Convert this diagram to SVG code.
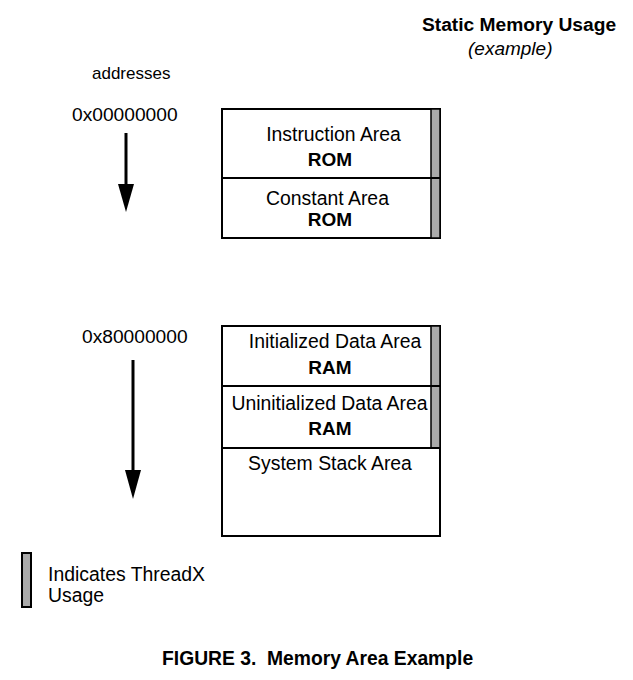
<svg xmlns="http://www.w3.org/2000/svg" width="633" height="680" viewBox="0 0 633 680">
<style>
text{font-family:"Liberation Sans",Arial,sans-serif;fill:#000}
.t{font-size:19.4px}
.b{font-size:19px;font-weight:bold}
.box{fill:#fff;stroke:#000;stroke-width:2}
.bar{fill:#aaa;stroke:#000;stroke-width:1.5}
.cap{font-size:19.3px;font-weight:bold}
</style>
<g id="title">
<text x="422" y="31" class="b" style="font-size:19.2px">Static Memory Usage</text>
<text x="468" y="55" style="font-size:19px;font-style:italic">(example)</text>
</g>
<g id="addresses">
<text x="92" y="79" style="font-size:17px">addresses</text>
<text x="72" y="121" style="font-size:19.2px">0x00000000</text>
<text x="82" y="343" style="font-size:19.2px">0x80000000</text>
</g>
<g id="connectors">
<line x1="126" y1="133" x2="126" y2="186" stroke="#000" stroke-width="3"/>
<path d="M118,184 L134,184 L126,212 Z" fill="#000"/>
<line x1="133" y1="360" x2="133" y2="472" stroke="#000" stroke-width="3"/>
<path d="M125,470 L141,470 L133,499 Z" fill="#000"/>
</g>
<g id="rom-block">
<rect x="222" y="109" width="218" height="129" class="box"/>
<rect x="431" y="109" width="9" height="129" class="bar"/>
<line x1="222" y1="178" x2="440" y2="178" stroke="#000" stroke-width="2"/>
</g>
<g id="instruction-area">
<text x="333.5" y="141" class="t" text-anchor="middle">Instruction Area</text>
<text x="330" y="166" class="b" text-anchor="middle">ROM</text>
</g>
<g id="constant-area">
<text x="327.5" y="205" class="t" text-anchor="middle">Constant Area</text>
<text x="330" y="226" class="b" text-anchor="middle">ROM</text>
</g>
<g id="ram-block">
<rect x="222" y="326" width="218" height="210" class="box"/>
<rect x="431" y="326" width="9" height="122" class="bar"/>
<line x1="222" y1="386" x2="440" y2="386" stroke="#000" stroke-width="2"/>
<line x1="222" y1="448" x2="440" y2="448" stroke="#000" stroke-width="2"/>
</g>
<g id="initialized-data">
<text x="335" y="348" class="t" text-anchor="middle">Initialized Data Area</text>
<text x="330" y="374" class="b" text-anchor="middle">RAM</text>
</g>
<g id="uninitialized-data">
<text x="329.5" y="410" class="t" text-anchor="middle">Uninitialized Data Area</text>
<text x="330" y="435" class="b" text-anchor="middle">RAM</text>
</g>
<g id="system-stack">
<text x="330" y="470" class="t" text-anchor="middle">System Stack Area</text>
</g>
<g id="legend">
<rect x="22" y="553" width="9" height="54" class="bar" style="stroke-width:2"/>
<text x="48" y="581" class="t">Indicates ThreadX</text>
<text x="48" y="602" class="t">Usage</text>
</g>
<g id="caption">
<text x="162" y="665" class="cap" xml:space="preserve">FIGURE 3.  Memory Area Example</text>
</g>
</svg>
